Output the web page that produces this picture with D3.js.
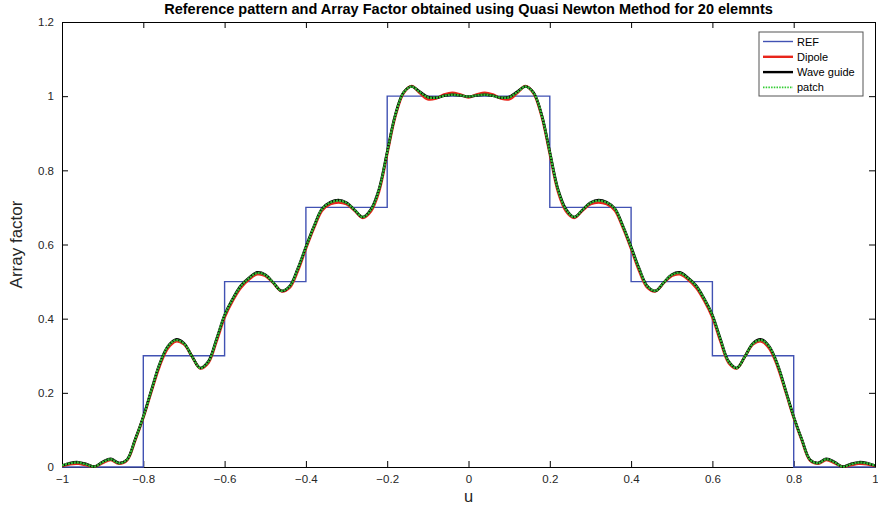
<!DOCTYPE html>
<html>
<head>
<meta charset="utf-8">
<script src="https://cdn.jsdelivr.net/npm/d3@7"></script>
<style>
  html, body { margin: 0; padding: 0; background: #fff; }
  svg { display: block; font-family: "Liberation Sans", Arial, sans-serif; }
</style>
</head>
<body>
<svg id="chart" width="878" height="508"></svg>
<script>
// Sample grid for u (step 0.02 from -1 to 1)
const uGrid = d3.range(101).map(i => +(-1 + i * 0.02).toFixed(2));

// Reference stepped pattern (breakpoints, drawn as step-after)
const refU = [-1, -0.8, -0.6, -0.4, -0.2, 0.2, 0.4, 0.6, 0.8, 1];
const refV = [0, 0.3, 0.5, 0.7, 1, 0.7, 0.5, 0.3, 0, 0];

// Array factor, dipole elements
const dipole = [
  0.003, 0.008, 0.009, 0.005, 0.001, 0.011, 0.019, 0.009, 0.018, 0.072,
  0.133, 0.204, 0.272, 0.320, 0.339, 0.331, 0.298, 0.266, 0.281, 0.339,
  0.404, 0.449, 0.484, 0.506, 0.520, 0.516, 0.496, 0.474, 0.484, 0.529,
  0.589, 0.645, 0.692, 0.709, 0.714, 0.709, 0.691, 0.672, 0.690, 0.744,
  0.845, 0.946, 1.008, 1.027, 1.009, 0.992, 0.994, 1.004, 1.009, 1.004,
  0.997,
  1.004, 1.009, 1.004, 0.994, 0.992, 1.009, 1.027, 1.008, 0.946, 0.845,
  0.744, 0.690, 0.672, 0.691, 0.709, 0.714, 0.709, 0.692, 0.645, 0.589,
  0.529, 0.484, 0.474, 0.496, 0.516, 0.520, 0.506, 0.484, 0.449, 0.404,
  0.339, 0.281, 0.266, 0.298, 0.331, 0.339, 0.320, 0.272, 0.204, 0.133,
  0.072, 0.018, 0.009, 0.019, 0.011, 0.001, 0.005, 0.009, 0.008, 0.003
];

// Array factor, wave guide elements
const waveGuide = [
  0.004, 0.011, 0.013, 0.008, 0.001, 0.014, 0.022, 0.011, 0.020, 0.075,
  0.136, 0.208, 0.278, 0.325, 0.344, 0.334, 0.298, 0.267, 0.285, 0.345,
  0.410, 0.454, 0.489, 0.510, 0.525, 0.519, 0.497, 0.475, 0.488, 0.535,
  0.594, 0.650, 0.697, 0.714, 0.720, 0.713, 0.693, 0.674, 0.695, 0.750,
  0.850, 0.950, 1.010, 1.026, 1.012, 0.998, 0.996, 1.001, 1.004, 1.002,
  0.999,
  1.002, 1.004, 1.001, 0.996, 0.998, 1.012, 1.026, 1.010, 0.950, 0.850,
  0.750, 0.695, 0.674, 0.693, 0.713, 0.720, 0.714, 0.697, 0.650, 0.594,
  0.535, 0.488, 0.475, 0.497, 0.519, 0.525, 0.510, 0.489, 0.454, 0.410,
  0.345, 0.285, 0.267, 0.298, 0.334, 0.344, 0.325, 0.278, 0.208, 0.136,
  0.075, 0.020, 0.011, 0.022, 0.014, 0.001, 0.008, 0.013, 0.011, 0.004
];

// Array factor, patch elements
const patch = [
  0.004, 0.010, 0.012, 0.007, 0.001, 0.013, 0.021, 0.010, 0.020, 0.074,
  0.135, 0.207, 0.277, 0.324, 0.342, 0.333, 0.298, 0.267, 0.284, 0.344,
  0.409, 0.453, 0.488, 0.509, 0.523, 0.518, 0.497, 0.475, 0.487, 0.534,
  0.593, 0.649, 0.696, 0.713, 0.718, 0.712, 0.693, 0.674, 0.694, 0.749,
  0.849, 0.949, 1.009, 1.026, 1.011, 0.997, 0.996, 1.001, 1.004, 1.002,
  0.999,
  1.002, 1.004, 1.001, 0.996, 0.997, 1.011, 1.026, 1.009, 0.949, 0.849,
  0.749, 0.694, 0.674, 0.693, 0.712, 0.718, 0.713, 0.696, 0.649, 0.593,
  0.534, 0.487, 0.475, 0.497, 0.518, 0.523, 0.509, 0.488, 0.453, 0.409,
  0.344, 0.284, 0.267, 0.298, 0.333, 0.342, 0.324, 0.277, 0.207, 0.135,
  0.074, 0.020, 0.010, 0.021, 0.013, 0.001, 0.007, 0.012, 0.010, 0.004
];

const xTicks = [-1, -0.8, -0.6, -0.4, -0.2, 0, 0.2, 0.4, 0.6, 0.8, 1];
const yTicks = [0, 0.2, 0.4, 0.6, 0.8, 1, 1.2];
const legendLabels = ["REF", "Dipole", "Wave guide", "patch"];

const svg = d3.select("#chart");
const margin = { left: 62, right: 3, top: 22, bottom: 41 };
const W = 878, H = 508;
const x0 = margin.left, x1 = W - margin.right;
const y0 = H - margin.bottom, y1 = margin.top;

const x = d3.scaleLinear().domain([-1, 1]).range([x0, x1]);
const y = d3.scaleLinear().domain([0, 1.2]).range([y0, y1]);

svg.append("defs").append("clipPath").attr("id", "plotClip")
  .append("rect").attr("x", x0).attr("y", y1 - 2)
  .attr("width", x1 - x0).attr("height", y0 - y1 + 3);

// Axes with inward ticks on all four sides
const fmt = d => (d === 0 ? "0" : d3.format("")(+d.toFixed(1)));
const axisStyle = g => {
  g.selectAll("path.domain").attr("stroke", "#000").attr("stroke-width", 1);
  g.selectAll(".tick line").attr("stroke", "#000");
  g.selectAll(".tick text").attr("fill", "#262626").style("font-size", "11.5px")
    .style("font-family", "'Liberation Sans', Arial, sans-serif");
};
svg.append("g").attr("transform", `translate(0,${y0})`)
  .call(d3.axisBottom(x).tickValues(xTicks).tickFormat(fmt).tickSizeInner(-6).tickSizeOuter(0).tickPadding(8))
  .call(axisStyle);
svg.append("g").attr("transform", `translate(0,${y1})`)
  .call(d3.axisTop(x).tickValues(xTicks).tickFormat("").tickSizeInner(-6).tickSizeOuter(0))
  .call(axisStyle);
svg.append("g").attr("transform", `translate(${x0},0)`)
  .call(d3.axisLeft(y).tickValues(yTicks).tickFormat(fmt).tickSizeInner(-6).tickSizeOuter(0).tickPadding(8))
  .call(axisStyle);
svg.append("g").attr("transform", `translate(${x1},0)`)
  .call(d3.axisRight(y).tickValues(yTicks).tickFormat("").tickSizeInner(-6).tickSizeOuter(0))
  .call(axisStyle);

const plot = svg.append("g").attr("clip-path", "url(#plotClip)");

// Reference pattern
const refLine = d3.line().x(d => x(d[0])).y(d => y(d[1])).curve(d3.curveStepAfter);
plot.append("path")
  .datum(refU.map((u, i) => [u, refV[i]]))
  .attr("d", refLine)
  .attr("fill", "none").attr("stroke", "#4152b3").attr("stroke-width", 1.4);

// Synthesized patterns
const afLine = d3.line().x(d => x(d[0])).y(d => y(d[1])).curve(d3.curveCatmullRom.alpha(0.5));
const series = [
  { vals: dipole, color: "#e8251b", width: 2.8, dash: null },
  { vals: waveGuide, color: "#000000", width: 2.6, dash: null },
  { vals: patch, color: "#34b534", width: 2.4, dash: "2.2,0.8" }
];
series.forEach(s => {
  plot.append("path")
    .datum(uGrid.map((u, i) => [u, s.vals[i]]))
    .attr("d", afLine)
    .attr("fill", "none")
    .attr("stroke", s.color)
    .attr("stroke-width", s.width)
    .attr("stroke-dasharray", s.dash)
    .attr("stroke-linejoin", "round");
});

// Title and axis labels
svg.append("text").attr("x", (x0 + x1) / 2).attr("y", 14)
  .attr("text-anchor", "middle").style("font-weight", "bold").style("font-size", "14.5px")
  .attr("fill", "#000")
  .text("Reference pattern and Array Factor obtained using Quasi Newton Method for 20 elemnts");
svg.append("text").attr("x", (x0 + x1) / 2).attr("y", 502)
  .attr("text-anchor", "middle").style("font-size", "16.5px").attr("fill", "#262626").text("u");
svg.append("text").attr("transform", `translate(22,${(y0 + y1) / 2}) rotate(-90)`)
  .attr("text-anchor", "middle").style("font-size", "17px").attr("fill", "#262626").text("Array factor");

// Legend
const lg = svg.append("g").attr("transform", "translate(759,32)");
lg.append("rect").attr("width", 104).attr("height", 64)
  .attr("fill", "#fff").attr("stroke", "#555").attr("stroke-width", 1);
const legendStyles = [
  { color: "#4152b3", width: 1.4, dash: null },
  { color: "#e8251b", width: 2.4, dash: null },
  { color: "#000000", width: 2.4, dash: null },
  { color: "#33cc33", width: 1.8, dash: "1.5,1.2" }
];
legendLabels.forEach((lab, i) => {
  const yy = 9.5 + i * 15.3;
  lg.append("line").attr("x1", 4).attr("x2", 34).attr("y1", yy).attr("y2", yy)
    .attr("stroke", legendStyles[i].color).attr("stroke-width", legendStyles[i].width)
    .attr("stroke-dasharray", legendStyles[i].dash);
  lg.append("text").attr("x", 38).attr("y", yy + 4).style("font-size", "11px")
    .attr("fill", "#000").text(lab);
});
</script>
</body>
</html>
